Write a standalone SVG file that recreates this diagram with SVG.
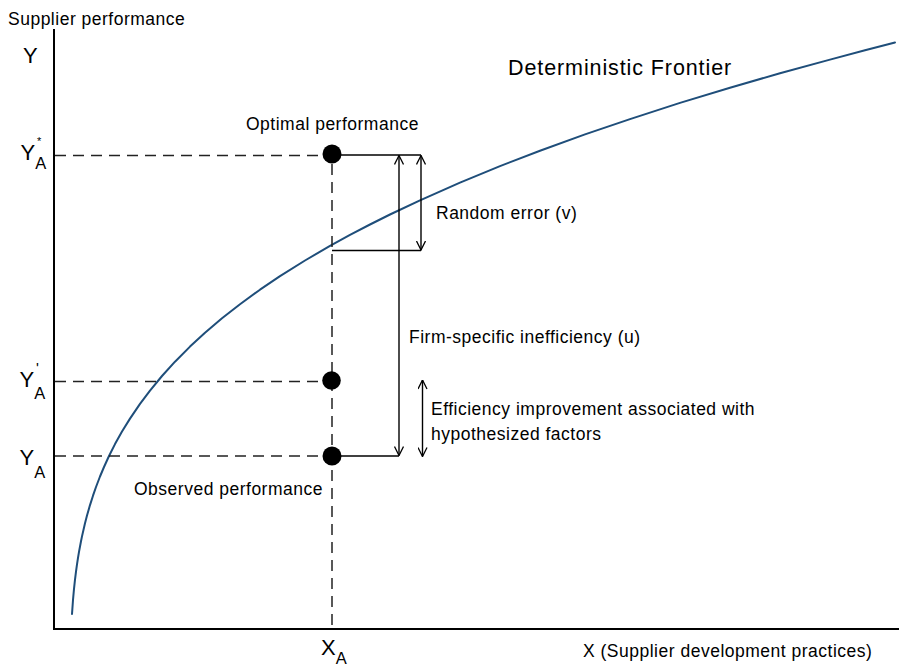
<svg xmlns="http://www.w3.org/2000/svg" width="899" height="667" viewBox="0 0 899 667">
<style>
text{font-family:"Liberation Sans",Arial,sans-serif;fill:#000}
.lbl{font-size:17.5px;letter-spacing:0.5px}
.big{font-size:22px}
.sub{font-size:16.5px}
.axis{stroke:#000;stroke-width:2;fill:none}
.dash{stroke:#222;stroke-width:1.5;stroke-dasharray:11 7;fill:none}
.solid{stroke:#000;stroke-width:1.4;fill:none}
.arrow{stroke:#000;stroke-width:1.4;fill:none;marker-start:url(#ah);marker-end:url(#ah)}
.dot{fill:#000}
</style>
<defs>
<marker id="ah" viewBox="0 0 10 10" refX="9.5" refY="5" markerWidth="10" markerHeight="10" markerUnits="userSpaceOnUse" orient="auto-start-reverse">
<path d="M0.5,0.5 L9.5,5 L0.5,9.5" fill="none" stroke="#000" stroke-width="1.3"/>
</marker>
</defs>
<rect width="899" height="667" fill="#fff"/>
<g id="axes">
<line class="axis" x1="54" y1="29" x2="54" y2="630"/>
<line class="axis" x1="53" y1="629" x2="899" y2="629"/>
<text class="lbl" x="8" y="25">Supplier performance</text>
<text class="big" x="23" y="62.5">Y</text>
<text class="lbl" x="583" y="657">X (Supplier development practices)</text>
<text class="big" x="321" y="655">X<tspan class="sub" dy="8.5">A</tspan></text>
</g>
<g id="frontier">
<path d="M72,614 L73,600 L74,588.9 L75,579.7 L76,571.6 L77,564.4 L78,557.9 L79,551.9 L81,541.2 L82,536.4 L85,523.3 L87,515.6 L90,505.1 L93,495.7 L96,487 L100,476.5 L104,467 L109,456 L115,444.1 L122,431.5 L130,418.6 L140,403.9 L150,390.6 L162,376 L175,361.7 L190,346.6 L205,332.8 L222,318.3 L240,304.2 L260,289.7 L280,276.2 L305,260.5 L330,245.9 L350,234.9 L370,224.5 L390,214.5 L420,200.3 L460,182.6 L500,166.1 L540,150.8 L585,134.4 L630,119.1 L680,102.9 L730,87.7 L780,73.3 L830,59.6 L865,50.2 L895,42.5" fill="none" stroke="#1f4e7a" stroke-width="2" stroke-linejoin="round" stroke-linecap="round"/>
<text x="508" y="75" style="font-size:21.5px;letter-spacing:0.9px">Deterministic Frontier</text>
</g>
<g id="connectors">
<line class="dash" x1="55" y1="155.5" x2="323" y2="155.5"/>
<line class="dash" x1="55" y1="381.5" x2="323" y2="381.5"/>
<line class="dash" x1="55" y1="456" x2="323" y2="456"/>
<line class="dash" x1="332" y1="164" x2="332" y2="628"/>
<line class="solid" x1="332" y1="155" x2="421" y2="155"/>
<line class="solid" x1="332" y1="250.5" x2="421" y2="250.5"/>
<line class="solid" x1="332" y1="456" x2="399" y2="456"/>
<line class="arrow" x1="399" y1="155.5" x2="399" y2="455.5"/>
<line class="arrow" x1="421" y1="155.5" x2="421" y2="250"/>
<line class="arrow" x1="422.5" y1="380" x2="422.5" y2="456.5"/>
</g>
<g id="optimal">
<circle class="dot" cx="332" cy="154" r="9.5"/>
<text class="lbl" x="246" y="130">Optimal performance</text>
</g>
<g id="intermediate">
<circle class="dot" cx="331.5" cy="380.5" r="9.3"/>
</g>
<g id="observed">
<circle class="dot" cx="332" cy="456" r="9.5"/>
<text class="lbl" x="134" y="494.5">Observed performance</text>
</g>
<g id="label-yastar">
<text class="big" x="20.5" y="160">Y<tspan class="sub" dy="9">A</tspan><tspan x="37" y="145" style="font-size:11px">*</tspan></text>
</g>
<g id="label-yaprime">
<text class="big" x="19.5" y="387">Y<tspan class="sub" dy="11.5">A</tspan><tspan x="36" y="373" style="font-size:15px">'</tspan></text>
</g>
<g id="label-ya">
<text class="big" x="19.5" y="465">Y<tspan class="sub" dy="13">A</tspan></text>
</g>
<g id="random-error">
<text class="lbl" x="436" y="218.5">Random error (v)</text>
</g>
<g id="inefficiency">
<text class="lbl" x="409" y="343">Firm-specific inefficiency (u)</text>
</g>
<g id="efficiency-improvement">
<text class="lbl" x="431" y="415">Efficiency improvement associated with</text>
<text class="lbl" x="431" y="440">hypothesized factors</text>
</g>
</svg>
